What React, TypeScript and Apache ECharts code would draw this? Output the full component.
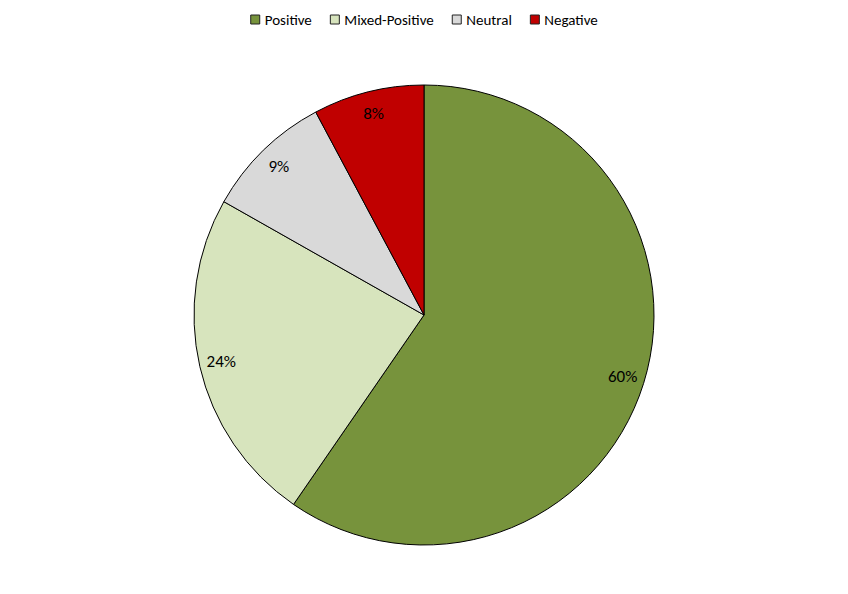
import React, { useEffect, useRef } from "react";
import * as echarts from "echarts";

const categories = ["Positive", "Mixed-Positive", "Neutral", "Negative"];
const values = [59.6, 23.6, 9.0, 7.8];
const colors = ["#77933C", "#D7E4BD", "#D9D9D9", "#C00000"];

export default function App() {
  const ref = useRef<HTMLDivElement>(null);
  useEffect(() => {
    const chart = echarts.init(ref.current!, null, { renderer: "svg" });
    const data = categories.map((name, i) => ({
      name,
      value: values[i],
      itemStyle: { color: colors[i] },
    }));
    const font = "Carlito, Lato, 'Open Sans', sans-serif";
    chart.setOption({
      animation: false,
      backgroundColor: "#ffffff",
      legend: {
        top: 7,
        left: "center",
        itemWidth: 9,
        itemHeight: 9,
        itemGap: 18,
        icon: "rect",
        textStyle: { fontFamily: font, fontSize: 15, color: "#000" },
        itemStyle: { borderColor: "#222", borderWidth: 1 },
        data: categories,
      },
      series: [
        {
          type: "pie",
          center: [424, 315],
          radius: [0, 230],
          startAngle: 90,
          clockwise: true,
          data,
          label: { show: false },
          labelLine: { show: false },
          itemStyle: { borderColor: "#000", borderWidth: 1 },
          silent: true,
        },
        {
          type: "pie",
          center: [424, 315],
          radius: [198, 212],
          startAngle: 90,
          clockwise: true,
          data: categories.map((name, i) => ({
            name,
            value: values[i],
            itemStyle: { color: "transparent", borderWidth: 0 },
          })),
          silent: true,
          legendHoverLink: false,
          label: {
            show: true,
            position: "inside",
            fontFamily: font,
            fontSize: 17,
            color: "#000",
            formatter: (p: any) => Math.round(p.percent) + "%",
          },
          labelLine: { show: false },
        },
      ],
    });
    return () => chart.dispose();
  }, []);
  return <div ref={ref} style={{ width: 848, height: 594, position: "absolute", left: 0, top: 0 }} />;
}
